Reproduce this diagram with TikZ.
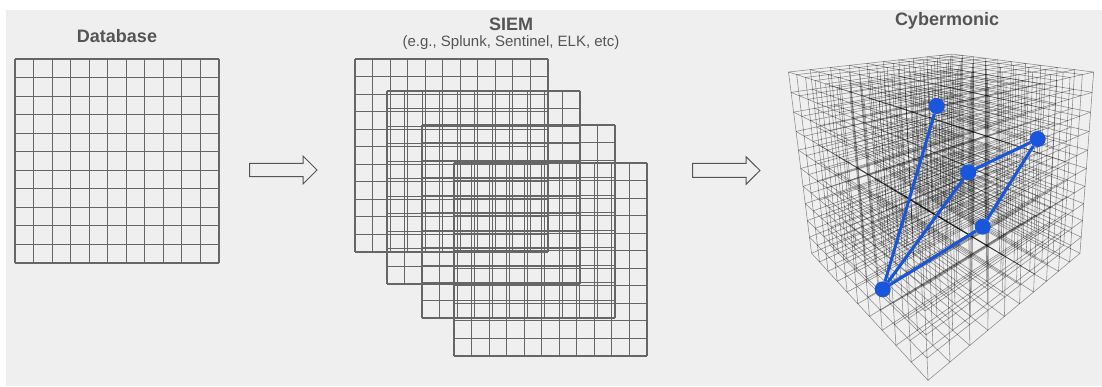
\documentclass[tikz,border=0pt]{standalone}
\usepackage{fontspec}
\setmainfont{Liberation Sans}
\definecolor{bgray}{HTML}{EFEFEF}
\definecolor{tgray}{HTML}{555555}
\definecolor{ggray}{HTML}{666666}
\definecolor{dotblue}{RGB}{26,86,219}
\newcommand\cubept[4]{%
  \pgfmathsetmacro\cubeX{((#2)-(#3))*0.70711}%
  \pgfmathsetmacro\cubeY{((#2)+(#3))*0.70711}%
  \pgfmathsetmacro\cubeDep{(\cubeY+\cubeD)*\cubeC+(\cubeH-(#4))*\cubeS}%
  \pgfmathsetmacro\cubeSX{\cubeCX+\cubeFX*(\cubeX+\cubeXS)/\cubeDep}%
  \pgfmathsetmacro\cubeSY{\cubeCY-\cubeFY*((\cubeY+\cubeD)*\cubeS+((#4)-\cubeH)*\cubeC)/\cubeDep}%
  \coordinate (#1) at (\cubeSX,\cubeSY);}
\def\cubeD{3.5}
\def\cubeH{1.6}
\def\cubeXS{-0.361}
\def\cubeFX{382}
\def\cubeFY{369}
\def\cubeCX{980}
\def\cubeCY{99.6}
\pgfmathsetmacro\cubeS{sin(14)}
\pgfmathsetmacro\cubeC{cos(14)}
\tikzset{
  gridline/.style={draw=ggray, line width=1.1pt},
  cubeline/.style={draw=black, line width=0.55pt, opacity=0.42},
  blockarrow/.style={draw=tgray, line width=1pt, fill=bgray, line join=miter},
  title/.style={font=\bfseries\fontsize{18}{21}\selectfont, text=tgray, inner sep=0pt},
  subtitle/.style={font=\fontsize{15}{18}\selectfont, text=tgray, inner sep=0pt},
  dot/.style={circle, fill=dotblue, inner sep=0pt, minimum size=16pt},
  link/.style={draw=dotblue, line width=3pt},
}
\newcommand\squaregrid[4]{% x0 y0 size cells
  \foreach \k in {0,...,#4}{
    \pgfmathsetmacro\gpos{#3*\k/#4}
    \draw[gridline] (#1+\gpos,#2) -- (#1+\gpos,#2+#3);
    \draw[gridline] (#1,#2+\gpos) -- (#1+#3,#2+\gpos);
  }}
\begin{document}
\begin{tikzpicture}[x=1pt,y=-1pt]
\useasboundingbox (0,0) rectangle (1102,386);
\fill[white] (0,0) rectangle (1102,386);
\fill[bgray] (6,10) rectangle (1102,386);

% titles
\node[title] (tdb) at (117,36) {Database};
\node[title] (tsiem) at (511,24) {SIEM};
\node[subtitle] (tsub) at (511,43) {(e.g., Splunk, Sentinel, ELK, etc)};
\node[title] (tcy) at (947,21) {Cybermonic};

% database grid
\squaregrid{15}{59}{204}{11}

% SIEM grids
\squaregrid{355}{59}{193}{11}
\squaregrid{387}{91}{193}{11}
\squaregrid{422}{125}{193}{11}
\squaregrid{454}{163}{193}{11}

% block arrows
\draw[blockarrow] (249.7,163.3) -- (303,163.3) -- (303,156) -- (317,170) -- (303,184) -- (303,176.7) -- (249.7,176.7) -- cycle;
\draw[blockarrow] (692.7,163.3) -- (746,163.3) -- (746,156.7) -- (760,170.5) -- (746,184.3) -- (746,177.3) -- (692.7,177.3) -- cycle;

% cube lattice
\foreach \i in {0,...,10}{
  \foreach \j in {0,...,10}{
    \pgfmathsetmacro\ua{-1+\i/5}
    \pgfmathsetmacro\ub{-1+\j/5}
    \cubept{ca}{-1}{\ua}{\ub}\cubept{cb}{1}{\ua}{\ub}
    \draw[cubeline] (ca) -- (cb);
    \cubept{ca}{\ua}{-1}{\ub}\cubept{cb}{\ua}{1}{\ub}
    \draw[cubeline] (ca) -- (cb);
    \cubept{ca}{\ua}{\ub}{-1}\cubept{cb}{\ua}{\ub}{1}
    \draw[cubeline] (ca) -- (cb);
  }
}

% graph
\node[dot] (p1) at (936.7,106) {};
\node[dot] (p2) at (1037.7,139) {};
\node[dot] (p3) at (968.3,172.3) {};
\node[dot] (p4) at (982.7,226.7) {};
\node[dot] (p5) at (882.7,289.3) {};
\draw[link] (p5) -- (p1);
\draw[link] (p5) -- (p3);
\draw[link] (p5) -- (p4);
\draw[link] (p3) -- (p2);
\draw[link] (p2) -- (p4);
\end{tikzpicture}
\end{document}
